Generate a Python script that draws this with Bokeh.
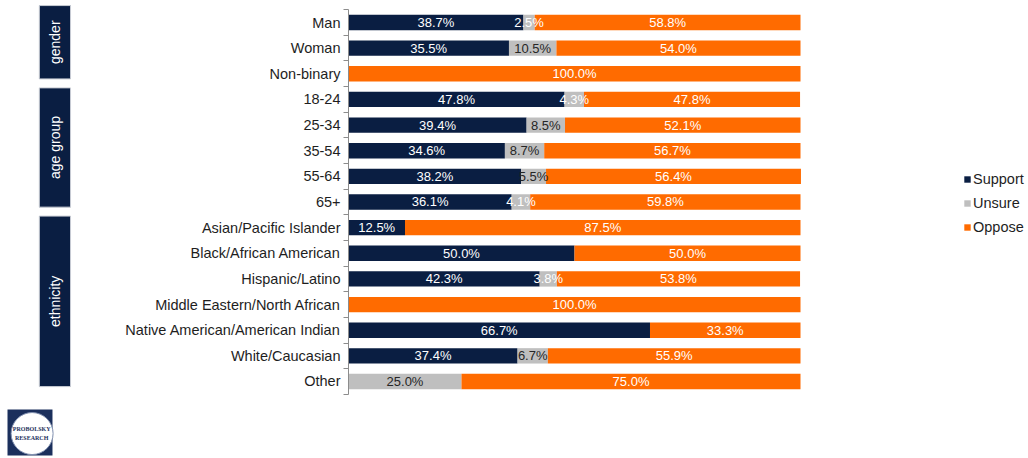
from bokeh.plotting import figure
from bokeh.models import Range1d, FixedTicker, ColumnDataSource, Legend, LegendItem
from bokeh.core.properties import value
from bokeh.embed import file_html
from bokeh.resources import INLINE

categories = ["Man", "Woman", "Non-binary", "18-24", "25-34", "35-54", "55-64", "65+",
              "Asian/Pacific Islander", "Black/African American", "Hispanic/Latino",
              "Middle Eastern/North African", "Native American/American Indian",
              "White/Caucasian", "Other"]
support = [38.7, 35.5, 0.0, 47.8, 39.4, 34.6, 38.2, 36.1, 12.5, 50.0, 42.3, 0.0, 66.7, 37.4, 0.0]
unsure = [2.5, 10.5, 0.0, 4.3, 8.5, 8.7, 5.5, 4.1, 0.0, 0.0, 3.8, 0.0, 0.0, 6.7, 25.0]
oppose = [58.8, 54.0, 100.0, 47.8, 52.1, 56.7, 56.4, 59.8, 87.5, 50.0, 53.8, 100.0, 33.3, 55.9, 75.0]
series = ["Support", "Unsure", "Oppose"]
groups = ["gender", "age group", "ethnicity"]
group_sizes = [3, 5, 7]

# styles
NAVY = "#0A1E42"
GRAY = "#BFBFBF"
ORANGE = "#FF6B00"
FONT = "Liberation Sans"
unsure_label_colors = ["white", "#262626", None, "white", "#262626", "#262626", "#262626", "white",
                       None, None, "white", None, None, "#262626", "#262626"]

W, H = 1028, 458
p = figure(width=W, height=H, output_backend="svg", toolbar_location=None,
           x_range=Range1d(-76.99, 150.44), y_range=Range1d(17.003, -0.858),
           x_axis_type=None, min_border=0, min_border_left=0, min_border_right=0,
           min_border_top=0, min_border_bottom=0)
p.outline_line_color = None
p.grid.visible = False

rows = list(range(len(categories)))
src = ColumnDataSource(dict(y=rows, Support=support, Unsure=unsure, Oppose=oppose))
rs = p.hbar_stack(series, y="y", height=0.6, color=[NAVY, GRAY, ORANGE], source=src, line_color=None)

# value labels
lx, ly, lt, lc = [], [], [], []
for i in rows:
    s, u, o = support[i], unsure[i], oppose[i]
    if s > 0:
        lx.append(s / 2); ly.append(i); lt.append(f"{s:.1f}%"); lc.append("white")
    if u > 0:
        lx.append(s + u / 2); ly.append(i); lt.append(f"{u:.1f}%"); lc.append(unsure_label_colors[i])
    if o > 0:
        lx.append(s + u + o / 2); ly.append(i); lt.append(f"{o:.1f}%"); lc.append("white")
p.text(x=lx, y=ly, text=lt, text_color=lc, text_align="center", text_baseline="middle",
       text_font=value(FONT), text_font_size="13px")

# y axis
ax = p.yaxis[0]
ax.fixed_location = 0
ax.ticker = FixedTicker(ticks=rows, minor_ticks=[i - 0.5 for i in range(len(categories) + 1)])
ax.major_label_overrides = {i: c for i, c in enumerate(categories)}
ax.bounds = (-0.5, len(categories) - 0.5)
ax.major_tick_in = 0
ax.major_tick_out = 0
ax.minor_tick_in = 0
ax.minor_tick_out = 5
ax.axis_line_color = "#8C8C8C"
ax.minor_tick_line_color = "#8C8C8C"
ax.major_label_standoff = 3
ax.major_label_text_font = FONT
ax.major_label_text_font_size = "14.5px"
ax.major_label_text_color = "#1E1E1E"

# group boxes
tops, bots, mids = [], [], []
start = 0
for n in group_sizes:
    top = start - 0.45 if start > 0 else -0.66
    bot = start + n - 1 + 0.2
    tops.append(top); bots.append(bot); mids.append((top + bot) / 2)
    start += n
p.quad(left=-68.4, right=-61.5, top=tops, bottom=bots, fill_color=NAVY, line_color="#C8CCD4", line_width=1)
p.text(x=-64.95, y=mids, text=groups, angle=1.5708, text_color="white", text_align="center",
       text_baseline="middle", text_font=value(FONT), text_font_size="14px")

# logo
p.quad(left=-75.44, right=-65.49, top=15.09, bottom=16.89, fill_color="#1B2F5C", line_color=None)
p.scatter(x=[-70.0], y=[16.03], size=42, marker="circle", fill_color="white", line_color="#8190B0", line_width=1)
p.text(x=[-70.1, -70.1], y=[15.84, 16.2], text=["PROBOLSKY", "RESEARCH"], text_color="#1B2F5C",
       text_align="center", text_baseline="middle", text_font=value("Liberation Serif"),
       text_font_size="6px", text_font_style="bold")

legend = Legend(items=[LegendItem(label=s, renderers=[r]) for s, r in zip(series, rs)],
                location=(963, 223), orientation="vertical")
legend.glyph_width = 8
legend.glyph_height = 8
legend.label_text_font = FONT
legend.label_text_font_size = "14.5px"
legend.label_text_color = "#1E1E1E"
legend.label_standoff = 2
legend.label_height = 17
legend.spacing = 7
legend.padding = 0
legend.margin = 0
legend.border_line_color = None
legend.background_fill_alpha = 0
p.add_layout(legend, "center")

open("out.html", "w").write(file_html(p, INLINE))
